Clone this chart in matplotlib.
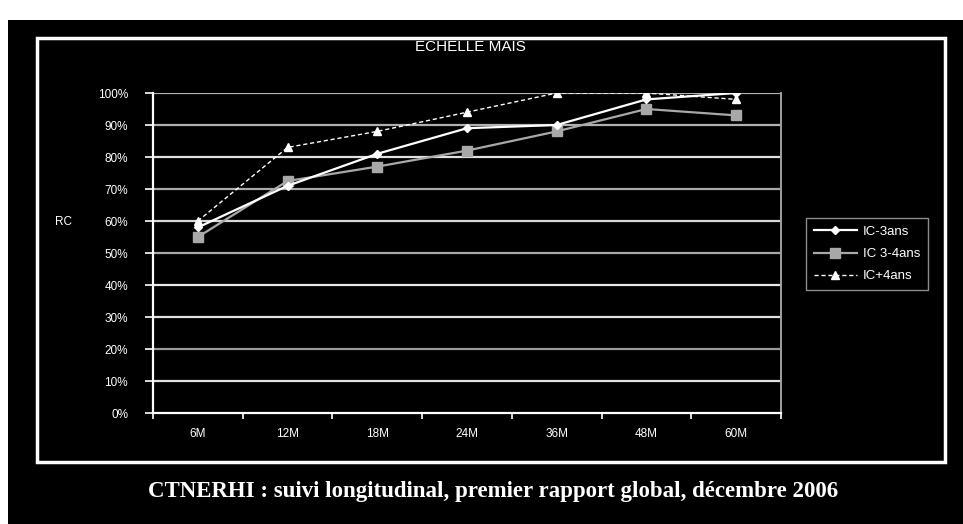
import matplotlib
matplotlib.use("Agg")
import matplotlib.pyplot as plt
from matplotlib.patches import Rectangle
import numpy as np

categories = ["6M", "12M", "18M", "24M", "36M", "48M", "60M"]
ic_moins3 = [58, 71, 81, 89, 90, 98, 100]
ic_3_4 = [55, 72.5, 77, 82, 88, 95, 93]
ic_plus4 = [60, 83, 88, 94, 100, 100, 98]
y_ticks = [0, 10, 20, 30, 40, 50, 60, 70, 80, 90, 100]

plt.rcParams['font.family'] = ['Liberation Sans', 'DejaVu Sans']

W, H = 963, 524
fig = plt.figure(figsize=(W / 100, H / 100), dpi=100, facecolor='white')

# black slide background and white frame
fig.patches.append(Rectangle((8 / W, 0), 1, 1 - 20 / H, transform=fig.transFigure,
                             facecolor='black', edgecolor='none', zorder=0))
fig.patches.append(Rectangle((37 / W, 1 - 462 / H), (945 - 37) / W, (462 - 38) / H,
                             transform=fig.transFigure, facecolor='none',
                             edgecolor='white', linewidth=2.5, zorder=1))

ax = fig.add_axes([153 / W, 1 - 413 / H, (781 - 153) / W, (413 - 93) / H])
ax.set_zorder(3)
ax.set_facecolor('black')

x = np.arange(len(categories))

# horizontal gridlines (scan shows a mix of white and grey)
grid_cols = {0: None, 10: '#e0e0e0', 20: '#9a9a9a', 30: '#e0e0e0', 40: '#e8e8e8',
             50: '#a8a8a8', 60: '#d8d8d8', 70: '#a8a8a8', 80: '#e0e0e0',
             90: '#b0b0b0', 100: '#b0b0b0'}
for v in y_ticks:
    c = grid_cols[v]
    if c:
        ax.axhline(v, color=c, linewidth=1.6, zorder=1)

ax.plot(x, ic_plus4, color='white', linestyle=(0, (3, 2)), linewidth=1.0,
        marker='^', markersize=6, markerfacecolor='white', markeredgecolor='white',
        label='IC+4ans', zorder=3)
ax.plot(x, ic_3_4, color='#a8a8a8', linewidth=1.6, marker='s', markersize=7,
        markerfacecolor='#a8a8a8', markeredgecolor='#a8a8a8',
        label='IC 3-4ans', zorder=4)
ax.plot(x, ic_moins3, color='white', linewidth=1.6, marker='D', markersize=4,
        markerfacecolor='white', markeredgecolor='white',
        label='IC-3ans', zorder=5)

ax.set_xlim(-0.5, len(categories) - 0.5)
ax.set_ylim(0, 100)

ax.set_yticks(y_ticks)
ax.set_yticklabels([f"{v}%" for v in y_ticks])
ax.set_xticks(np.arange(len(categories) + 1) - 0.5)
ax.set_xticklabels([])
ax.set_xticks(x, minor=True)
ax.set_xticklabels(categories, minor=True)
ax.tick_params(axis='x', which='major', length=4, width=1.2, color='white', direction='out')
ax.tick_params(axis='x', which='minor', length=0, pad=11, labelsize=8.5, labelcolor='white')
ax.tick_params(axis='y', length=6, width=1.2, color='white', labelsize=8.5,
               labelcolor='white', pad=12)

ax.spines['top'].set_visible(False)
ax.spines['left'].set_color('white')
ax.spines['left'].set_linewidth(1.6)
ax.spines['bottom'].set_color('white')
ax.spines['bottom'].set_linewidth(1.6)
ax.spines['right'].set_color('#a0a0a0')
ax.spines['right'].set_linewidth(1.4)

fig.text(470 / W, 1 - 47 / H, "ECHELLE MAIS", color='white', fontsize=11,
         ha='center', va='center')
fig.text(63 / W, 1 - 222 / H, "RC", color='white', fontsize=8.5,
         ha='center', va='center')

handles, labels = ax.get_legend_handles_labels()
leg = fig.legend(handles[::-1], labels[::-1], loc='center',
                 bbox_to_anchor=(867 / W, 1 - 254 / H), frameon=True,
                 fontsize=9.5, handlelength=3.3, labelspacing=0.75,
                 borderpad=0.55, handletextpad=0.45, borderaxespad=0,
                 fancybox=False, labelcolor='white')
leg.set_zorder(4)
leg.get_frame().set_facecolor('black')
leg.get_frame().set_edgecolor('#b0b0b0')
leg.get_frame().set_linewidth(1.0)

fig.text(493 / W, 1 - 492 / H,
         "CTNERHI : suivi longitudinal, premier rapport global, décembre 2006",
         color='white', fontsize=16.5, fontweight='bold',
         family=['Liberation Serif', 'DejaVu Serif'],
         ha='center', va='center')

fig.savefig('out.png', dpi=100, facecolor=fig.get_facecolor())
